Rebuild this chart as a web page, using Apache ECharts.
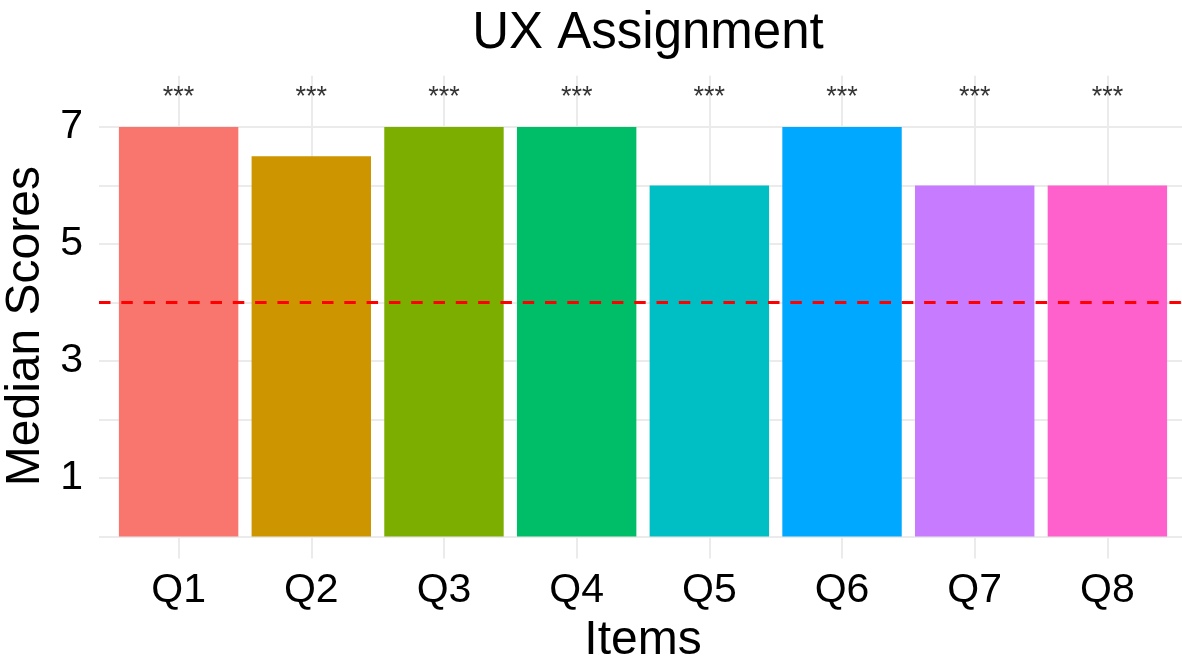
<!DOCTYPE html>
<html>
<head>
<meta charset="utf-8">
<title>UX Assignment</title>
<script src="https://cdn.jsdelivr.net/npm/echarts@6/dist/echarts.min.js"></script>
<style>
  html, body { margin: 0; padding: 0; background: #ffffff; }
  #chart { width: 1182px; height: 656px; }
</style>
</head>
<body>
<div id="chart"></div>
<script>
// Items and their median scores
const CATEGORIES = ['Q1', 'Q2', 'Q3', 'Q4', 'Q5', 'Q6', 'Q7', 'Q8'];
const MEDIANS = [7, 6.5, 7, 7, 6, 7, 6, 6];
// Significance markers shown above each item
const SIGNIFICANCE = ['***', '***', '***', '***', '***', '***', '***', '***'];
const SIG_LABEL_Y = 7.5;
// Neutral midpoint of the scale
const REFERENCE_LINE = 4;
// Y tick labels
const Y_TICKS = [1, 3, 5, 7];

const PALETTE = ['#F8766D', '#CD9600', '#7CAE00', '#00BE67', '#00BFC4', '#00A9FF', '#C77CFF', '#FF61CC'];
const FONT = '"Liberation Sans", Arial, sans-serif';
const GRID_COLOR = '#ebebeb';

// Panel geometry (discrete axis padded by 0.6 of a step on both sides)
const X_MIN = 0.4, X_MAX = CATEGORIES.length + 0.6;
const Y_MIN = -0.375, Y_MAX = 7.875;
const GRID = { left: 99, right: -5, top: 75.8, bottom: 97.6 };
const panelWidth = 1182 - GRID.left - GRID.right;
const barWidth = 0.9 * panelWidth / (X_MAX - X_MIN);

const chart = echarts.init(document.getElementById('chart'), null, { renderer: 'canvas' });

chart.setOption({
  backgroundColor: '#ffffff',
  animation: false,
  title: {
    text: 'UX Assignment',
    left: GRID.left + panelWidth / 2,
    textAlign: 'center',
    top: 3,
    textStyle: { fontFamily: FONT, fontSize: 51, fontWeight: 'normal', color: '#000000' }
  },
  grid: Object.assign({ containLabel: false, outerBoundsMode: 'none' }, GRID),
  xAxis: {
    type: 'value',
    min: X_MIN,
    max: X_MAX,
    splitNumber: CATEGORIES.length,
    name: 'Items',
    nameLocation: 'middle',
    nameGap: 50,
    nameTextStyle: { fontFamily: FONT, fontSize: 48, color: '#000000' },
    axisLine: { show: false },
    axisTick: { show: false },
    axisLabel: {
      margin: 12,
      fontFamily: FONT,
      fontSize: 41,
      color: '#000000',
      showMinLabel: false,
      showMaxLabel: false,
      formatter: v => (Number.isInteger(v) && CATEGORIES[v - 1]) ? CATEGORIES[v - 1] : ''
    },
    splitLine: {
      show: true,
      showMinLine: false,
      showMaxLine: false,
      lineStyle: { color: GRID_COLOR, width: 2 }
    }
  },
  yAxis: {
    type: 'value',
    min: Y_MIN,
    max: Y_MAX,
    splitNumber: 8,
    name: 'Median Scores',
    nameLocation: 'middle',
    nameGap: 46,
    nameTextStyle: { fontFamily: FONT, fontSize: 48, color: '#000000', padding: [0, 18, 0, 0] },
    axisLine: { show: false },
    axisTick: { show: false },
    axisLabel: {
      margin: 16,
      fontFamily: FONT,
      fontSize: 41,
      color: '#000000',
      showMinLabel: false,
      showMaxLabel: false,
      formatter: v => Y_TICKS.includes(v) ? String(v) : ''
    },
    splitLine: {
      show: true,
      showMinLine: false,
      showMaxLine: false,
      lineStyle: { color: GRID_COLOR, width: 2 }
    }
  },
  series: [
    {
      type: 'bar',
      barWidth: barWidth,
      data: CATEGORIES.map((c, i) => ({
        value: [i + 1, MEDIANS[i]],
        itemStyle: { color: PALETTE[i % PALETTE.length] }
      })),
      markLine: {
        silent: true,
        symbol: ['none', 'none'],
        label: { show: false },
        lineStyle: { color: '#ff0000', width: 3, type: [11.5, 10.8] },
        data: [{ yAxis: REFERENCE_LINE }]
      },
      z: 2
    },
    {
      type: 'scatter',
      symbolSize: 0,
      data: CATEGORIES.map((c, i) => [i + 1, SIG_LABEL_Y]),
      label: {
        show: true,
        position: 'inside',
        fontFamily: FONT,
        fontSize: 27,
        color: '#000000',
        formatter: p => SIGNIFICANCE[p.dataIndex]
      },
      z: 3
    }
  ]
});
</script>
</body>
</html>
